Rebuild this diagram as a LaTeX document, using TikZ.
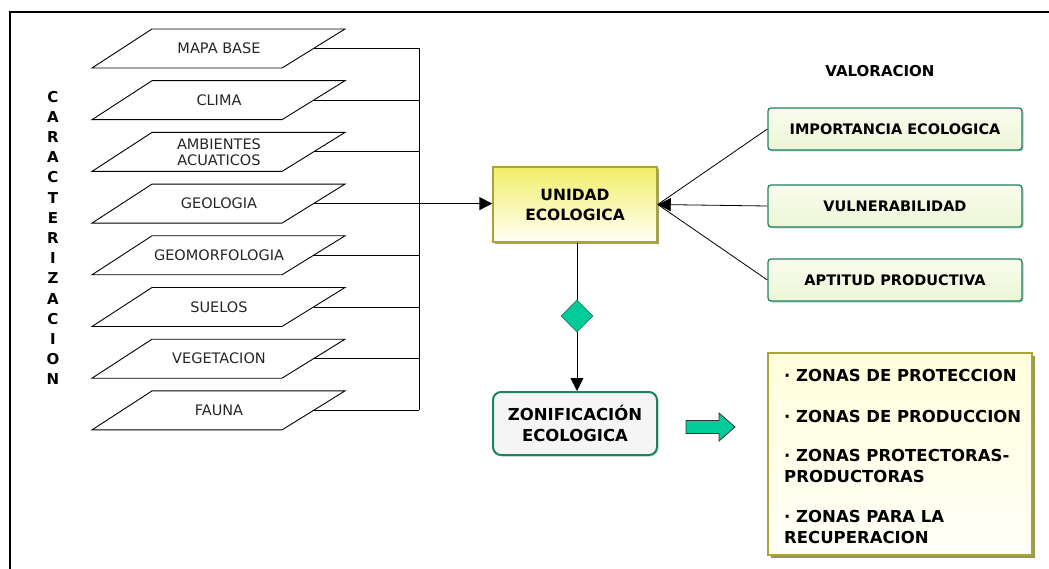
\documentclass[tikz,border=0pt]{standalone}
\usepackage{fontspec}
\setmainfont{DejaVu Sans}
\usetikzlibrary{shapes.geometric,arrows.meta,shadows}
\definecolor{olive}{RGB}{168,164,58}
\definecolor{oliveshadow}{RGB}{140,138,70}
\definecolor{dgreen}{RGB}{32,128,98}
\definecolor{teal}{RGB}{0,204,153}
\definecolor{ytop}{RGB}{242,238,105}
\definecolor{ybot}{RGB}{255,255,245}
\definecolor{ztop}{RGB}{255,255,220}
\definecolor{zbot}{RGB}{255,255,248}
\definecolor{gtop}{RGB}{236,246,214}
\definecolor{gbot}{RGB}{250,252,238}
\tikzset{
  layerline/.style={draw=black, line width=0.9pt},
  layertext/.style={font=\fontsize{14.5}{16}\selectfont, text=black!85, align=center, inner sep=0pt},
  bus/.style={draw=black, line width=1pt},
  tri/.style={-{Triangle[length=13pt,width=13pt]}},
  unitbox/.style={draw=olive, line width=1.5pt, minimum width=164pt, minimum height=75pt,
    top color=ytop, bottom color=ybot, align=center,
    font=\fontsize{15.5}{20}\selectfont\bfseries,
    drop shadow={shadow xshift=2pt, shadow yshift=-2pt, fill=oliveshadow, opacity=0.8}},
  valbox/.style={draw=dgreen, line width=1.3pt, rounded corners=3pt, minimum width=254pt,
    minimum height=42pt, top color=gbot, bottom color=gtop,
    font=\fontsize{14.5}{16}\selectfont\bfseries,
    drop shadow={shadow xshift=1.5pt, shadow yshift=-1.5pt, fill=dgreen!45, opacity=0.8}},
  zonbox/.style={draw=dgreen, line width=2pt, rounded corners=8pt, minimum width=164pt,
    minimum height=63pt, fill=green!4!gray!8, align=center,
    font=\fontsize{16.5}{21}\selectfont\bfseries,
    drop shadow={shadow xshift=1.5pt, shadow yshift=-1.5pt, fill=dgreen!40, opacity=0.6}},
  listbox/.style={draw=olive, line width=1.5pt, minimum width=264pt, minimum height=202pt,
    top color=ztop, bottom color=zbot,
    drop shadow={shadow xshift=2.5pt, shadow yshift=-2.5pt, fill=oliveshadow, opacity=0.9}},
  listtext/.style={anchor=west, align=left, inner sep=0pt,
    font=\fontsize{16.5}{20.5}\selectfont\bfseries},
  thin/.style={draw=black, line width=0.8pt},
}
\begin{document}
\begin{tikzpicture}[x=1pt,y=-1pt]
\useasboundingbox (0,0) rectangle (1049,569);
% outer frame (only top and left edges fall inside the page)
\draw[line width=2pt] (10,569) -- (10,12) -- (1049,12);

% vertical title
\node[align=center, inner sep=0pt, font=\fontsize{15}{20.2}\selectfont\bfseries] (car) at (53,238)
  {C\\A\\R\\A\\C\\T\\E\\R\\I\\Z\\A\\C\\I\\O\\N};

% stacked thematic layers
\foreach \t [count=\i from 0] in {MAPA BASE, CLIMA, {AMBIENTES\\ACUATICOS}, GEOLOGIA,
  GEOMORFOLOGIA, SUELOS, VEGETACION, FAUNA}{
  \pgfmathsetmacro\yt{29+51.7*\i}
  \draw[layerline] (92,\yt+39) -- (282,\yt+39) -- (345,\yt) -- (152,\yt) -- cycle;
  \node[layertext] (L\i) at (219,\yt+19.5) {\t};
  \coordinate (R\i) at (313.5,\yt+19.5);
}
\coordinate (bus) at (419,0);
\foreach \i in {0,1,2,4,5,6,7}{
  \draw[bus] (R\i) -- (R\i -| bus);
}
\draw[bus] (R0 -| bus) -- (R7 -| bus);

% central unit
\node[unitbox] (ue) at (575,204.5) {UNIDAD\\ECOLOGICA};
\draw[line width=1.6pt, tri] (R3) -- (R3 -| ue.west);

% valuation criteria
\node[font=\fontsize{15}{17}\selectfont\bfseries] (val) at (880,71) {VALORACION};
\node[valbox] (imp) at (895,129) {IMPORTANCIA ECOLOGICA};
\node[valbox] (vul) at (895,206) {VULNERABILIDAD};
\node[valbox] (apt) at (895,280) {APTITUD PRODUCTIVA};
\draw[thin] (imp.west) -- (ue.east);
\draw[thin] (apt.west) -- (ue.east);
\draw[thin, tri] (vul.west) -- (ue.east);

% decision and zoning
\node[diamond, draw=dgreen, line width=0.6pt, fill=teal, minimum width=32pt,
  minimum height=32pt, inner sep=0pt] (dec) at (577,316) {};
\node[zonbox] (zon) at (575,423.5) {ZONIFICACIÓN\\ECOLOGICA};
\draw[thin] (ue.south -| dec) -- (dec.north);
\draw[thin, tri] (dec.south) -- (dec.south |- zon.north);

% block arrow towards the resulting zones
\draw[draw=black!80, line width=0.8pt, fill=teal, line join=miter]
  (686,420.5) -- (719,420.5) -- (719,413) -- (735,427) -- (719,441) -- (719,433.5)
  -- (686,433.5) -- cycle;

\node[listbox] (lst) at (900,454) {};
\node[listtext] (z1) at (784,375) {· ZONAS DE PROTECCION};
\node[listtext] (z2) at (784,416) {· ZONAS DE PRODUCCION};
\node[listtext] (z3) at (784,466) {· ZONAS PROTECTORAS-\\PRODUCTORAS};
\node[listtext] (z4) at (784,527) {· ZONAS PARA LA\\RECUPERACION};
\end{tikzpicture}
\end{document}
